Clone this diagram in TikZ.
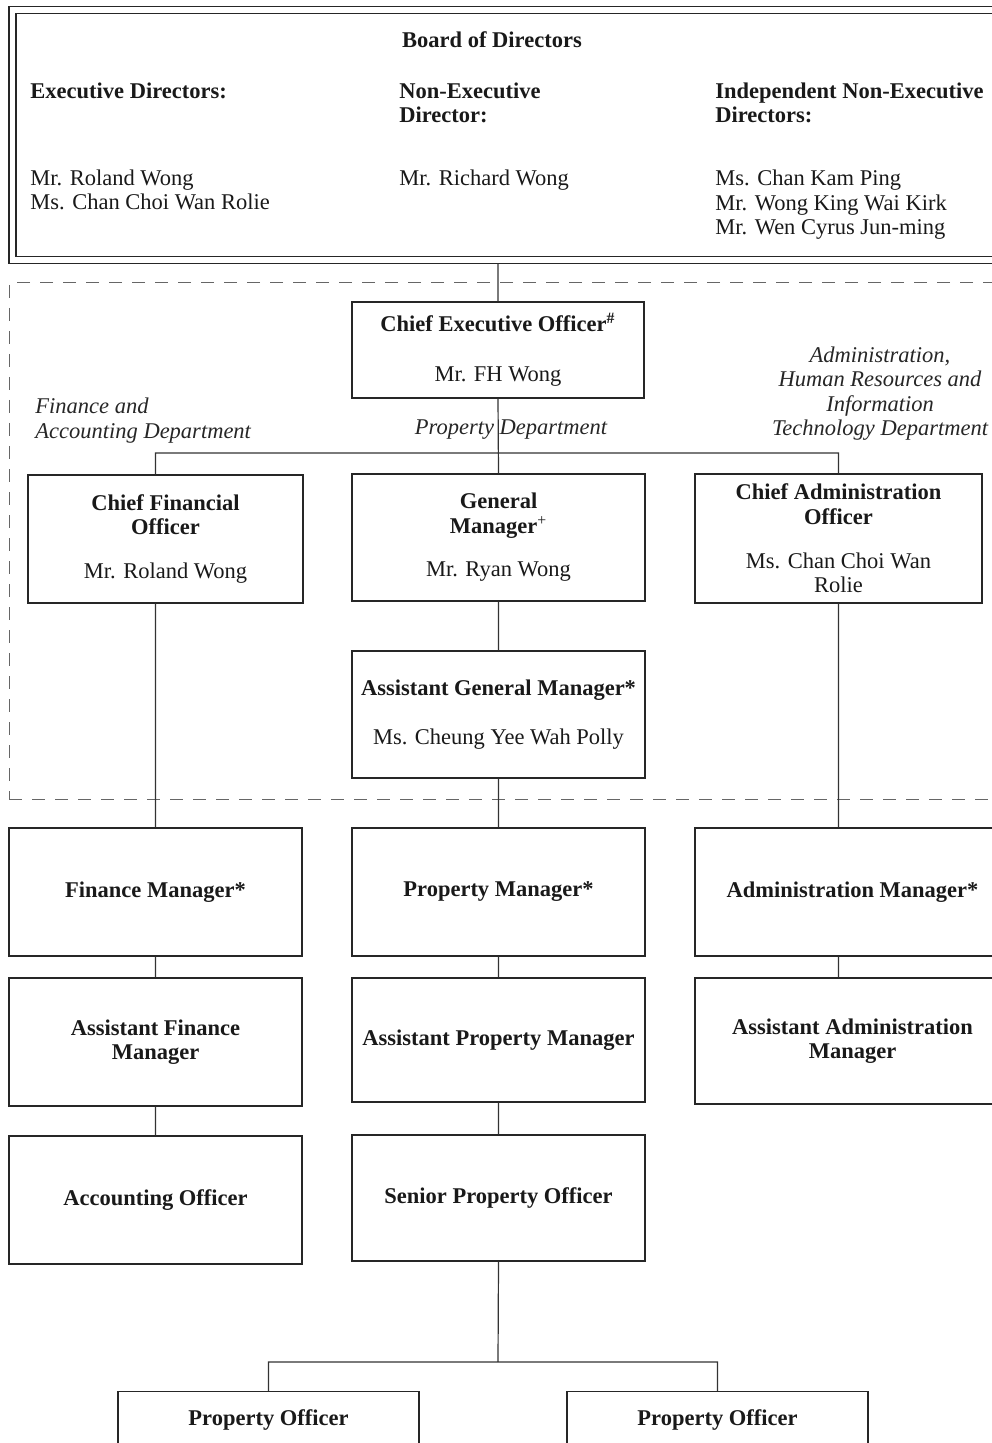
\documentclass[tikz,border=0pt]{standalone}
\usepackage{fontspec}
\setmainfont{Liberation Serif}
\usepackage{tikz}
\usetikzlibrary{positioning}

\begin{document}
\begin{tikzpicture}[x=0.5pt,y=-0.5pt,font=\fontsize{11.25}{12.3}\selectfont,
		unit/.style={draw=black!85,line width=0.6pt,align=center,inner sep=2pt,text=black!90,minimum width=146.5pt,minimum height=64pt},
		leaf/.style={unit,minimum height=0pt,minimum width=150.5pt,text height=8pt,text depth=40pt,inner ysep=9pt,anchor=north},
		dept/.style={font=\fontsize{11.25}{12.3}\selectfont\itshape,text=black!85,inner sep=0pt},
		head/.style={font=\fontsize{11.25}{12.3}\selectfont\bfseries,text=black!90,align=left,inner sep=0pt,anchor=base west},
		names/.style={align=left,text=black!90,inner sep=0pt,anchor=base west},
		link/.style={draw=black!80,line width=0.6pt},
		node distance=10.4pt]
			\useasboundingbox (0,0) rectangle (991,1443);

			\node[draw=black!85,line width=0.6pt,double,double distance=2.9pt,minimum width=503.75pt,minimum height=125pt,inner sep=0pt] (board) at (516.25,135) {};
			\node[font=\fontsize{11.25}{12.3}\selectfont\bfseries,text=black!90,anchor=base,inner sep=0pt] (bodtitle) at (492,48) {Board of Directors};
			\node[head] (exechead) at (30,99) {Executive Directors:};
			\node[head] (nonexechead) at (399,123) {Non-Executive\\Director:};
			\node[head] (inedhead) at (715,123) {Independent Non-Executive\\Directors:};
			\node[names] (execnames) at (30,210) {Mr. Roland Wong\\Ms. Chan Choi Wan Rolie};
			\node[names] (nonexecnames) at (399,186) {Mr. Richard Wong};
			\node[names] (inednames) at (715,235) {Ms. Chan Kam Ping\\Mr. Wong King Wai Kirk\\Mr. Wen Cyrus Jun-ming};

			\node[draw=black!60,line width=0.5pt,dash pattern=on 6.5pt off 5pt,minimum width=503pt,minimum height=258pt,inner sep=0pt] (mgmt) at (512,541) {};

			\node[unit,minimum width=146pt,minimum height=48pt] (ceo) at (498,350) {\textbf{Chief Executive Officer\textsuperscript{\#}}\\[12.5pt]Mr. FH Wong};
			\node[unit,minimum width=137.5pt] (cfo) at (165.5,539) {\textbf{Chief Financial}\\\textbf{Officer}\\[9.5pt]Mr. Roland Wong};
			\node[unit,minimum height=63.5pt] (gm) at (498.5,537.5) {\textbf{General}\\\textbf{Manager}\textsuperscript{+}\\[9.5pt]Mr. Ryan Wong};
			\node[unit,minimum width=143.5pt,minimum height=64.5pt] (cao) at (838.5,538.5) {\textbf{Chief Administration}\\\textbf{Officer}\\[9.5pt]Ms. Chan Choi Wan\\Rolie};
			\node[unit,minimum height=63.5pt] (agm) at (498.5,714.5) {\textbf{Assistant General Manager*}\\[12.5pt]Ms. Cheung Yee Wah Polly};

			\node[dept,align=left,anchor=base west] (findept) at (35,438) {Finance and\\Accounting Department};
			\node[dept,anchor=base] (propdept) at (511,435) {Property Department};
			\node[dept,align=center,anchor=base] (admindept) at (880,436) {Administration,\\Human Resources and\\Information\\Technology Department};

			\node[unit] (fm) at (155.5,892) {\textbf{Finance Manager*}};
			\node[unit] (pm) at (498.5,892) {\textbf{Property Manager*}};
			\node[unit,minimum width=157.5pt] (am) at (852.5,892) {\textbf{Administration Manager*}};
			\node[unit] (afm) [below=of fm] {\textbf{Assistant Finance}\\\textbf{Manager}};
			\node[unit] (ao) [below=14.4pt of afm] {\textbf{Accounting Officer}};
			\node[unit,minimum height=62pt] (apm) [below=of pm] {\textbf{Assistant Property Manager}};
			\node[unit,minimum height=63pt] (spo) [below=15.9pt of apm] {\textbf{Senior Property Officer}};
			\node[unit,minimum width=157.5pt,minimum height=63pt] (aam) [below=of am] {\textbf{Assistant Administration}\\\textbf{Manager}};
			\node[leaf] (po1) at (268.5,1391) {\textbf{Property Officer}};
			\node[leaf] (po2) at (717.5,1391) {\textbf{Property Officer}};

			\coordinate (boardfoot) at ([yshift=-1.4pt]board.south);
			\coordinate (bus) at (498,453);
			\coordinate (split) at (498,1362);

			\draw[link] (ceo.north |- boardfoot) -- (ceo.north)
					(ceo.south) -- (gm.north)
					(cfo.north -| fm.north) |- (bus) -| (cao.north)
					(gm.south) -- (agm.north)
					(agm.south) -- (pm.north)
					(cfo.south -| fm.north) -- (fm.north)
					(cao.south) -- (cao.south |- am.north)
					(fm) -- (afm)
					(afm) -- (ao)
					(pm) -- (apm)
					(apm) -- (spo)
					(am.south -| cao.south) -- (aam.north -| cao.south)
					(spo.south) -- (split)
					(po1.north) |- (split) -| (po2.north);
\end{tikzpicture}
\end{document}
